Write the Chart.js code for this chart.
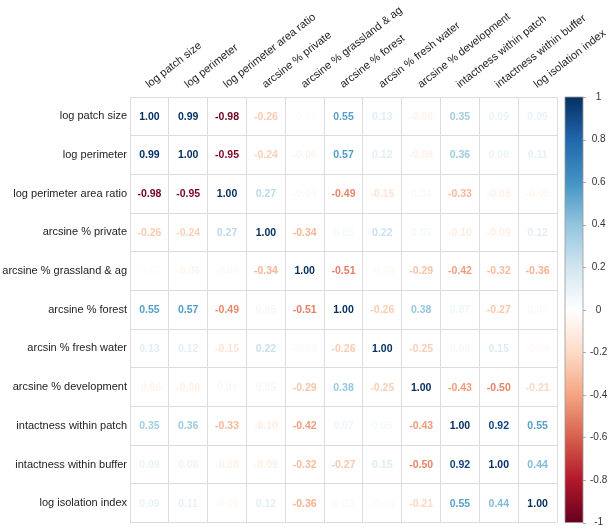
<!DOCTYPE html>
<html>
<head>
<meta charset="utf-8">
<script src="https://cdn.jsdelivr.net/npm/chart.js@4.4.0/dist/chart.umd.min.js"></script>
<style>
  html, body { margin: 0; padding: 0; background: #fff; }
  #chart { display: block; }
</style>
</head>
<body>
<canvas id="chart" width="609" height="529"></canvas>
<script>
// variable names (rows and columns are the same)
const variables = [
    'log patch size', 'log perimeter', 'log perimeter area ratio', 'arcsine % private',
    'arcsine % grassland & ag', 'arcsine % forest', 'arcsin % fresh water',
    'arcsine % development', 'intactness within patch', 'intactness within buffer',
    'log isolation index'
];

// correlation rows
const rowPatchSize   = [1.00, 0.99, -0.98, -0.26, -0.02, 0.55, 0.13, -0.06, 0.35, 0.09, 0.09];
const rowPerimeter   = [0.99, 1.00, -0.95, -0.24, -0.06, 0.57, 0.12, -0.08, 0.36, 0.08, 0.11];
const rowPerimArea   = [-0.98, -0.95, 1.00, 0.27, -0.04, -0.49, -0.15, 0.04, -0.33, -0.08, -0.05];
const rowPrivate     = [-0.26, -0.24, 0.27, 1.00, -0.34, 0.05, 0.22, 0.05, -0.10, -0.09, 0.12];
const rowGrassland   = [-0.02, -0.06, -0.04, -0.34, 1.00, -0.51, -0.04, -0.29, -0.42, -0.32, -0.36];
const rowForest      = [0.55, 0.57, -0.49, 0.05, -0.51, 1.00, -0.26, 0.38, 0.07, -0.27, 0.03];
const rowFreshWater  = [0.13, 0.12, -0.15, 0.22, -0.04, -0.26, 1.00, -0.25, 0.05, 0.15, -0.04];
const rowDevelopment = [-0.06, -0.08, 0.04, 0.05, -0.29, 0.38, -0.25, 1.00, -0.43, -0.50, -0.21];
const rowIntactPatch = [0.35, 0.36, -0.33, -0.10, -0.42, 0.07, 0.05, -0.43, 1.00, 0.92, 0.55];
const rowIntactBuf   = [0.09, 0.08, -0.08, -0.09, -0.32, -0.27, 0.15, -0.50, 0.92, 1.00, 0.44];
const rowIsolation   = [0.09, 0.11, -0.05, 0.12, -0.36, 0.03, -0.04, -0.21, 0.55, 0.44, 1.00];

// colour bar ticks
const colorbarTicks = [1, 0.8, 0.6, 0.4, 0.2, 0, -0.2, -0.4, -0.6, -0.8, -1];

// RdBu palette, from -1 to 1
const palette = ['#67001F', '#B2182B', '#D6604D', '#F4A582', '#FDDBC7', '#FFFFFF',
                 '#D1E5F0', '#92C5DE', '#4393C3', '#2166AC', '#053061'];

const rows = [rowPatchSize, rowPerimeter, rowPerimArea, rowPrivate, rowGrassland, rowForest,
              rowFreshWater, rowDevelopment, rowIntactPatch, rowIntactBuf, rowIsolation];

function hexToRgb(h) {
    return [parseInt(h.slice(1, 3), 16), parseInt(h.slice(3, 5), 16), parseInt(h.slice(5, 7), 16)];
}

function colorFor(v) {
    const t = (Math.max(-1, Math.min(1, v)) + 1) / 2 * (palette.length - 1);
    const i = Math.min(Math.floor(t), palette.length - 2);
    const f = t - i;
    const a = hexToRgb(palette[i]);
    const b = hexToRgb(palette[i + 1]);
    const c = a.map((x, k) => Math.round(x + (b[k] - x) * f));
    return `rgb(${c[0]},${c[1]},${c[2]})`;
}

const points = [];
rows.forEach((row, r) => {
    row.forEach((v, c) => {
        points.push({ x: variables[c], y: variables[r], v: v });
    });
});

const gridColor = '#dcdcdc';
const labelFont = { family: '"Liberation Sans", Arial, sans-serif', size: 11 };

// numbers in each cell
const numbersPlugin = {
    id: 'numbers',
    afterDatasetsDraw(chart) {
        const ctx = chart.ctx;
        const meta = chart.getDatasetMeta(0);
        ctx.save();
        ctx.font = 'bold 10.5px "Liberation Sans", Arial, sans-serif';
        ctx.textAlign = 'center';
        ctx.textBaseline = 'middle';
        meta.data.forEach((el, i) => {
            const v = points[i].v;
            ctx.fillStyle = colorFor(v);
            ctx.fillText(v.toFixed(2), el.x, el.y + 0.5);
        });
        ctx.restore();
    }
};

// colour bar on the right
const colorbarPlugin = {
    id: 'colorbar',
    afterDraw(chart) {
        const ctx = chart.ctx;
        const cb = chart.scales.cb;
        const top = cb.getPixelForValue(1);
        const bottom = cb.getPixelForValue(-1);
        const x0 = chart.chartArea.right + 8;
        const w = 18;
        const grad = ctx.createLinearGradient(0, bottom, 0, top);
        palette.forEach((c, i) => grad.addColorStop(i / (palette.length - 1), c));
        ctx.save();
        ctx.fillStyle = grad;
        ctx.fillRect(x0, top, w, bottom - top);
        ctx.strokeStyle = '#9a9a9a';
        ctx.lineWidth = 0.8;
        ctx.strokeRect(x0, top, w, bottom - top);
        ctx.beginPath();
        colorbarTicks.forEach(t => {
            const y = Math.round(cb.getPixelForValue(t)) + 0.5;
            ctx.moveTo(x0 + w, y);
            ctx.lineTo(x0 + w + 3, y);
        });
        ctx.stroke();
        ctx.restore();
    }
};

new Chart(document.getElementById('chart'), {
    type: 'scatter',
    data: {
        datasets: [{
            data: points,
            pointRadius: 0,
            pointHoverRadius: 0
        }]
    },
    options: {
        responsive: false,
        animation: false,
        devicePixelRatio: 1,
        layout: { padding: { top: 0, left: 0, right: 0, bottom: 6.5 } },
        plugins: {
            legend: { display: false },
            tooltip: { enabled: false }
        },
        scales: {
            x: {
                type: 'category',
                labels: variables,
                position: 'top',
                offset: true,
                grid: { offset: true, color: gridColor, drawTicks: false },
                border: { color: gridColor },
                ticks: {
                    autoSkip: false, minRotation: 38, maxRotation: 38, padding: 6,
                    labelOffset: 6, color: '#222', font: labelFont
                },
                afterFit: s => { s.height = 97; s.paddingLeft = 0; s.paddingRight = 0; }
            },
            y: {
                type: 'category',
                labels: variables,
                offset: true,
                grid: { offset: true, color: gridColor, drawTicks: false },
                border: { color: gridColor },
                ticks: { autoSkip: false, padding: 3, color: '#222', font: labelFont },
                afterFit: s => { s.width = 130; s.paddingTop = 0; s.paddingBottom = 0; }
            },
            cb: {
                type: 'linear',
                position: 'right',
                min: -1,
                max: 1,
                grid: { display: false, drawTicks: true, tickLength: 33 },
                border: { display: false },
                ticks: {
                    stepSize: 0.2, padding: 0, crossAlign: 'center', color: '#333',
                    font: { family: '"Liberation Sans", Arial, sans-serif', size: 10 },
                    callback: v => String(Number(v.toFixed(1)))
                },
                afterFit: s => { s.width = 52; s.paddingTop = 0; s.paddingBottom = 0; }
            }
        }
    },
    plugins: [numbersPlugin, colorbarPlugin]
});
</script>
</body>
</html>
